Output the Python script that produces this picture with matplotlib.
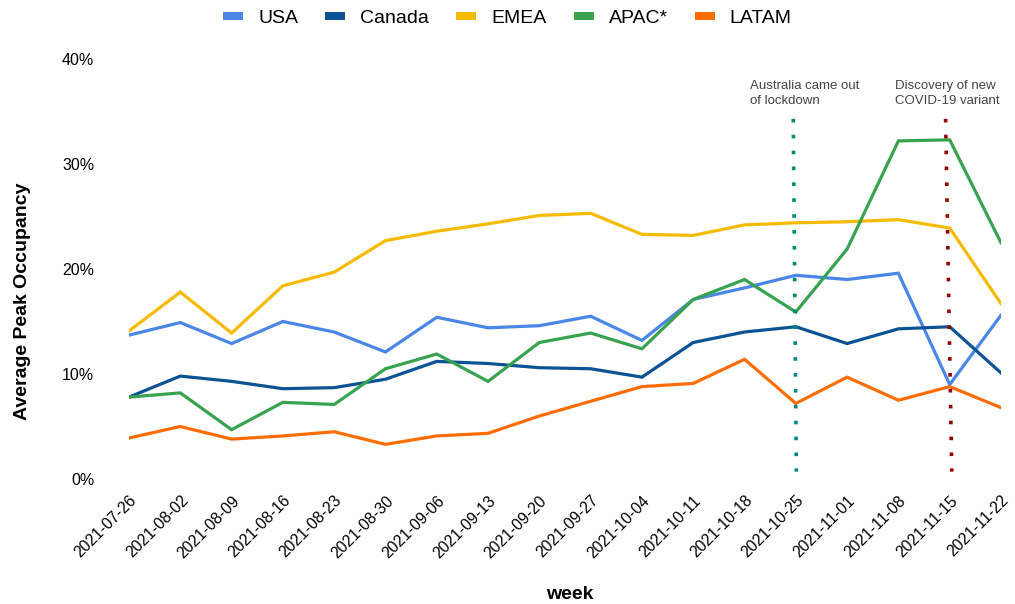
import matplotlib
matplotlib.use("Agg")
import matplotlib.pyplot as plt
from matplotlib.patches import Patch
from matplotlib.ticker import PercentFormatter

weeks = ["2021-07-26", "2021-08-02", "2021-08-09", "2021-08-16", "2021-08-23",
         "2021-08-30", "2021-09-06", "2021-09-13", "2021-09-20", "2021-09-27",
         "2021-10-04", "2021-10-11", "2021-10-18", "2021-10-25", "2021-11-01",
         "2021-11-08", "2021-11-15", "2021-11-22"]

usa = [13.7, 14.9, 12.9, 15.0, 14.0, 12.1, 15.4, 14.4, 14.6, 15.5,
       13.2, 17.1, 18.2, 19.4, 19.0, 19.6, 9.0, 15.6]
canada = [7.8, 9.8, 9.3, 8.6, 8.7, 9.5, 11.2, 11.0, 10.6, 10.5,
          9.7, 13.0, 14.0, 14.5, 12.9, 14.3, 14.5, 10.1]
emea = [14.1, 17.8, 13.9, 18.4, 19.7, 22.7, 23.6, 24.3, 25.1, 25.3,
        23.3, 23.2, 24.2, 24.4, 24.5, 24.7, 23.9, 16.7]
apac = [7.8, 8.2, 4.7, 7.3, 7.1, 10.5, 11.9, 9.3, 13.0, 13.9,
        12.4, 17.1, 19.0, 15.9, 21.9, 32.2, 32.3, 22.5]
latam = [3.9, 5.0, 3.8, 4.1, 4.5, 3.3, 4.1, 4.35, 6.0, 7.4,
         8.8, 9.1, 11.4, 7.2, 9.7, 7.5, 8.8, 6.8]

series_names = ["USA", "Canada", "EMEA", "APAC*", "LATAM"]
series_colors = ["#4a86e8", "#0b5394", "#f6bb00", "#38a34f", "#ff6d01"]

events = ["2021-10-25", "2021-11-15"]
event_labels = ["Australia came out\nof lockdown", "Discovery of new\nCOVID-19 variant"]
event_colors = ["#00897b", "#990000"]
# hand-drawn marker lines: slight lean (top offset, bottom offset) in weeks
event_lean = [(-0.05, 0.01), (-0.08, 0.04)]
event_text_offset = [-0.9, -1.07]
event_span = (0.7, 34.3)

plt.rcParams["font.family"] = ["Liberation Sans", "DejaVu Sans"]

fig = plt.figure(figsize=(10.15, 6.04), dpi=100)
ax = fig.add_axes([129 / 1015, 125 / 604, 872 / 1015, 420 / 604])

x = list(range(len(weeks)))
for vals, name, col in zip([usa, canada, emea, apac, latam], series_names, series_colors):
    ax.plot(x, [v / 100 for v in vals], color=col, lw=2.3, label=name,
            solid_joinstyle="miter", zorder=3)

for wk, lab, col, lean, toff in zip(events, event_labels, event_colors, event_lean,
                                    event_text_offset):
    xi = weeks.index(wk)
    ax.plot([xi + lean[0], xi + lean[1]], [event_span[1] / 100, event_span[0] / 100],
            color=col, lw=2.6, linestyle=(0, (1, 3.4)), dash_capstyle="butt", zorder=4)
    ax.text(xi + toff, 0.380, lab, fontsize=9.5, color="#444444", va="top", ha="left",
            linespacing=1.3)

ax.set_xlim(0, len(weeks) - 1)
ax.set_ylim(0, 0.40)
ax.set_yticks([0, 0.1, 0.2, 0.3, 0.4])
ax.yaxis.set_major_formatter(PercentFormatter(1.0, decimals=0))
ax.set_xticks(x)
ax.set_xticklabels(weeks, rotation=45, ha="right", rotation_mode="anchor", fontsize=11.3)
ax.tick_params(axis="y", length=0, pad=25, labelsize=11.5)
ax.tick_params(axis="x", length=0, pad=10)
for s in ax.spines.values():
    s.set_visible(False)

ax.set_ylabel("Average Peak Occupancy", fontsize=14, fontweight="bold")
ax.yaxis.set_label_coords(-0.112, 0.424)
ax.set_xlabel("week", fontsize=14, fontweight="bold")
ax.xaxis.set_label_coords(0.5055, -0.255)

handles = [Patch(facecolor=c, edgecolor="none", label=n) for n, c in zip(series_names, series_colors)]
fig.legend(handles=handles, loc="upper center", bbox_to_anchor=(0.5, 1.013), ncol=5,
           frameon=False, fontsize=14, handlelength=1.03, handleheight=0.26,
           handletextpad=0.77, columnspacing=1.39)

fig.savefig("out.png", dpi=100)
